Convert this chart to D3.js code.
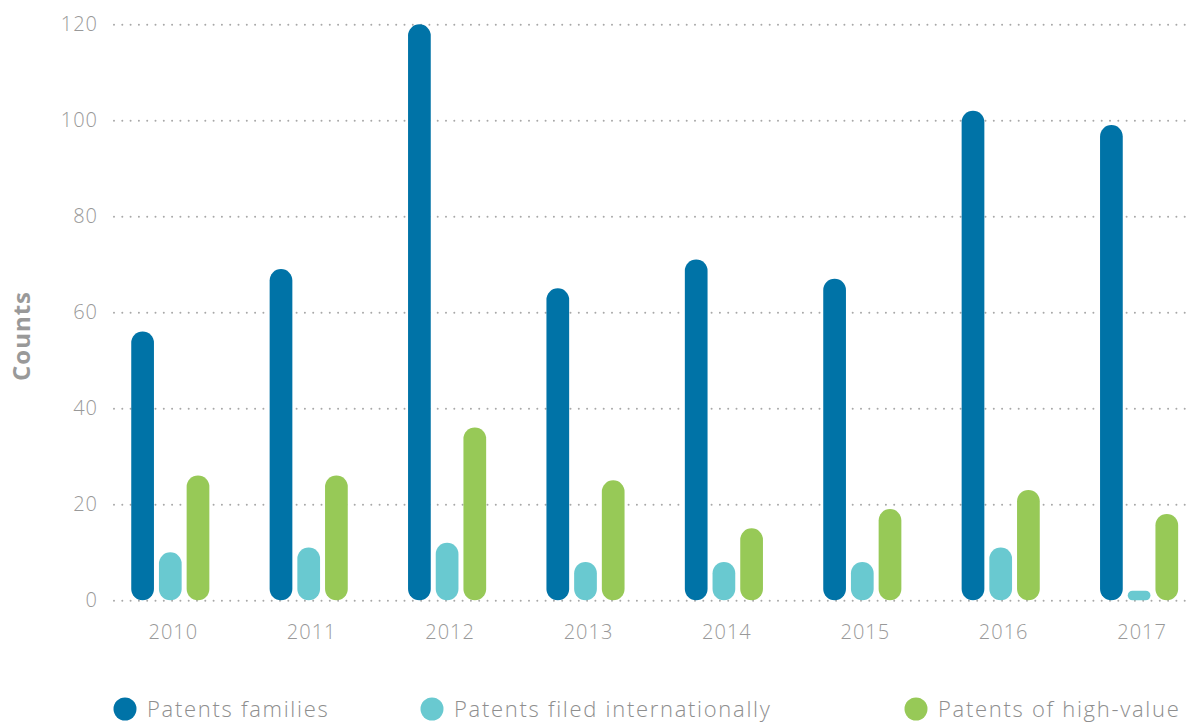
<!DOCTYPE html>
<html>
<head>
<meta charset="utf-8">
<script src="https://cdn.jsdelivr.net/npm/d3@7"></script>
<style>
  body { margin: 0; background: #fff; }
  svg text { font-family: "Open Sans", "Noto Sans", sans-serif; font-weight: 300; }
</style>
</head>
<body>
<svg id="chart" width="1187" height="722"></svg>
<script>
const years = ["2010", "2011", "2012", "2013", "2014", "2015", "2016", "2017"];
const families = [56, 69, 120, 65, 71, 67, 102, 99];
const international = [10, 11, 12, 8, 8, 8, 11, 2];
const highValue = [26, 26, 36, 25, 15, 19, 23, 18];
const seriesNames = ["Patents families", "Patents filed internationally", "Patents of high-value"];
const seriesColors = ["#0073a7", "#69c9d0", "#97c957"];
const yTicks = [0, 20, 40, 60, 80, 100, 120];

const svg = d3.select("svg#chart");
const width = +svg.attr("width");

const seriesValues = [families, international, highValue];
const data = years.map((y, i) => ({
  year: y,
  values: seriesValues.map((s, k) => ({ key: seriesNames[k], value: s[i] })),
}));

const gridLeft = 114;
const yScale = d3.scaleLinear([0, 120], [600.3, 24.3]);
const x0 = d3.scaleBand(years, [101.1, 1208.3]);
const x1 = d3
  .scaleBand(seriesNames, [-41.55, 41.55])
  .paddingInner(0.18)
  .paddingOuter(0.09);
const color = d3.scaleOrdinal(seriesNames, seriesColors);

// y axis with dotted gridlines
const yAxis = d3
  .axisLeft(yScale)
  .tickValues(yTicks)
  .tickSize(-(width - gridLeft))
  .tickPadding(16);
const yG = svg
  .append("g")
  .attr("transform", `translate(${gridLeft},0)`)
  .call(yAxis);
yG.select(".domain").remove();
yG.selectAll(".tick line")
  .attr("stroke", "#a8a8a8")
  .attr("stroke-width", 2)
  .attr("stroke-linecap", "round")
  .attr("stroke-dasharray", "0,8.3");
yG.selectAll(".tick text")
  .attr("fill", "#999")
  .style("font-size", "20px")
  .style("letter-spacing", "1px");

// x axis labels
const xAxis = d3.axisBottom(x0).tickSize(0).tickPadding(0);
const xG = svg.append("g").attr("transform", "translate(3,600)").call(xAxis);
xG.select(".domain").remove();
xG.selectAll(".tick text")
  .attr("fill", "#999")
  .attr("y", 32)
  .attr("dy", "0.35em")
  .style("font-size", "20px")
  .style("letter-spacing", "1px");

// bars
const groups = svg
  .append("g")
  .selectAll("g")
  .data(data)
  .join("g")
  .attr("transform", (d) => `translate(${x0(d.year) + x0.bandwidth() / 2},0)`);

groups
  .selectAll("rect")
  .data((d) => d.values)
  .join("rect")
  .attr("x", (d) => x1(d.key))
  .attr("width", x1.bandwidth())
  .attr("y", (d) => yScale(d.value))
  .attr("height", (d) => yScale(0) - yScale(d.value))
  .attr("rx", (d) => Math.min(x1.bandwidth() / 2, (yScale(0) - yScale(d.value)) / 2))
  .attr("fill", (d) => color(d.key));

// y label
svg
  .append("text")
  .attr("transform", "translate(30,336) rotate(-90)")
  .attr("text-anchor", "middle")
  .attr("fill", "#999")
  .style("font-size", "24px")
  .style("font-weight", "700")
  .style("letter-spacing", "1px")
  .text("Counts");

// legend
const legendX = [125, 432, 916];
const legend = svg
  .append("g")
  .selectAll("g")
  .data(seriesNames)
  .join("g")
  .attr("transform", (d, i) => `translate(${legendX[i]},709)`);
legend.append("circle").attr("r", 11.5).attr("fill", (d) => color(d));
legend
  .append("text")
  .attr("x", 22)
  .attr("dy", "0.35em")
  .attr("fill", "#8e8e8e")
  .style("font-size", "22px")
  .style("letter-spacing", "1.7px")
  .text((d) => d);
</script>
</body>
</html>
